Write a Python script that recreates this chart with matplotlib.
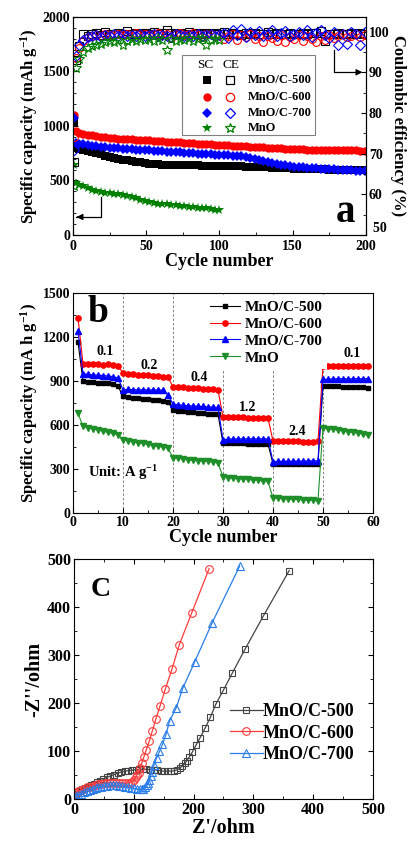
import matplotlib
matplotlib.use("Agg")
import matplotlib.pyplot as plt
from matplotlib.ticker import AutoMinorLocator, MultipleLocator, FixedLocator, FixedFormatter
from matplotlib.patches import Rectangle
from matplotlib.transforms import blended_transform_factory

plt.rcParams["font.family"] = ["Liberation Serif", "DejaVu Serif"]
plt.rcParams["font.weight"] = "bold"
plt.rcParams["axes.labelweight"] = "bold"
plt.rcParams["mathtext.fontset"] = "custom"
plt.rcParams["mathtext.rm"] = "Liberation Serif:bold"
plt.rcParams["mathtext.it"] = "Liberation Serif:bold"
plt.rcParams["mathtext.bf"] = "Liberation Serif:bold"
plt.rcParams["xtick.direction"] = "in"
plt.rcParams["ytick.direction"] = "in"

# ---------------- panel a: cycling at constant rate ----------------
cycles_a = [1, 2] + list(range(4, 201, 3))
cycles_mno = cycles_a[:35]

sc_500 = [1025, 795, 785, 776, 768, 760, 752, 740, 725, 713, 705, 698, 692, 687, 680, 673, 665,
          658, 654, 650, 647, 645, 643, 642, 641, 640, 640, 639, 638, 638, 637, 636, 636, 635,
          635, 634, 633, 632, 631, 630, 628, 627, 625, 623, 621, 619, 617, 615, 613, 611, 610,
          608, 607, 606, 605, 604, 603, 602, 601, 600, 599, 598, 597, 596, 595, 594, 593, 592]
sc_600 = [1100, 950, 940, 930, 921, 914, 908, 903, 898, 893, 889, 885, 882, 879, 876, 873, 871,
          869, 867, 864, 862, 859, 857, 854, 852, 849, 847, 844, 842, 839, 837, 834, 832, 829,
          827, 825, 822, 820, 818, 815, 813, 811, 808, 806, 804, 801, 799, 796, 794, 791, 789,
          787, 786, 785, 784, 783, 782, 781, 780, 779, 779, 778, 777, 776, 776, 775, 774, 774]
sc_700 = [1070, 845, 838, 831, 825, 819, 814, 809, 805, 801, 798, 795, 792, 789, 786, 783, 780,
          777, 775, 772, 770, 767, 765, 762, 760, 757, 755, 752, 750, 747, 745, 742, 740, 737,
          735, 733, 731, 729, 726, 721, 713, 704, 695, 686, 677, 668, 660, 652, 645, 638, 632,
          627, 623, 619, 616, 613, 610, 608, 606, 604, 602, 600, 598, 595, 593, 591, 589, 587]
sc_mno = [640, 475, 462, 445, 428, 412, 400, 390, 386, 381, 378, 375, 368, 360, 352, 340, 325,
          310, 300, 290, 286, 283, 280, 277, 275, 270, 265, 261, 256, 252, 248, 244, 238, 232, 230]

ce_500 = [68.0, 93.0, 96.5, 99.5, 99.0, 99.3, 99.6, 99.2, 99.8, 99.5, 99.4, 99.6, 99.3, 100.2,
          99.5, 99.7, 99.4, 99.6, 99.5, 99.8, 99.3, 99.6, 100.4, 99.7, 99.4, 99.6, 99.5, 99.8,
          99.3, 99.6, 99.5, 99.7, 99.4, 99.6, 99.5, 99.8, 99.3, 99.6, 99.5, 99.2, 99.7, 99.4,
          99.6, 99.3, 99.5, 99.8, 99.4, 99.6, 99.5, 99.3, 99.7, 99.5, 99.4, 99.6, 99.5, 99.7,
          99.6, 100.1, 97.6, 99.5, 99.3, 99.6, 99.4, 99.5, 99.7, 99.4, 99.6, 99.5]
ce_600 = [74.0, 93.5, 96.0, 97.8, 98.6, 98.9, 99.2, 99.0, 99.4, 99.1, 99.3, 99.5, 99.2, 99.4,
          99.0, 99.6, 99.3, 99.5, 99.2, 99.4, 99.6, 99.1, 99.5, 98.4, 99.3, 99.6, 99.2, 99.4,
          99.7, 99.1, 98.7, 99.3, 99.5, 99.0, 99.2, 98.3, 98.9, 99.4, 97.9, 99.1, 98.6, 99.3,
          98.1, 98.8, 97.4, 99.0, 98.5, 97.8, 99.2, 97.5, 98.7, 98.2, 99.1, 97.6, 98.8, 98.3,
          97.4, 98.9, 98.0, 99.2, 98.5, 98.8, 99.3, 98.6, 99.0, 99.4, 98.7, 99.1]
ce_700 = [71.0, 94.0, 96.6, 98.0, 98.6, 98.8, 99.1, 98.7, 99.2, 98.9, 99.3, 99.0, 99.4, 98.8,
          99.2, 99.0, 99.3, 98.9, 99.1, 99.4, 98.8, 99.2, 99.0, 98.6, 99.3, 99.1, 98.9, 99.2,
          99.0, 99.4, 98.8, 99.1, 99.3, 98.9, 99.2, 99.6, 98.4, 100.3, 99.1, 100.6, 98.6, 99.8,
          99.2, 100.1, 98.8, 99.5, 100.4, 99.0, 99.7, 100.2, 98.9, 99.4, 100.0, 99.2, 100.5,
          98.7, 99.6, 100.3, 99.1, 98.4, 99.8, 96.8, 99.5, 97.0, 100.0, 99.3, 96.6, 99.9]
ce_mno = [62.0, 91.0, 93.2, 95.0, 96.0, 96.5, 96.8, 97.0, 97.4, 97.8, 97.5, 98.0, 96.6, 97.8,
          98.1, 97.6, 98.2, 97.9, 98.3, 97.7, 98.4, 98.0, 95.6, 98.2, 97.8, 98.3, 97.9, 98.4,
          97.6, 98.1, 98.5, 96.7, 98.0, 98.3, 97.9]

names_a = ["MnO/C-500", "MnO/C-600", "MnO/C-700", "MnO"]
colors_a = ["black", "red", "blue", "green"]
markers_a = ["s", "o", "D", "*"]
ce_ticks = [50, 60, 70, 80, 90, 100]

# ---------------- panel b: rate capability ----------------
cycles_b = list(range(1, 60))
rate_500 = [1165, 900, 895, 890, 888, 886, 884, 878, 865,
            795, 790, 786, 782, 778, 775, 771, 768, 764, 760,
            700, 696, 692, 689, 686, 684, 681, 678, 675, 672,
            478, 476, 475, 474, 474, 473, 473, 472, 472, 471,
            336, 335, 334, 334, 334, 335, 335, 335, 336, 336,
            865, 867, 866, 864, 862, 860, 859, 857, 856, 855]
rate_600 = [1330, 1018, 1015, 1017, 1014, 1012, 1015, 1010, 1003,
            955, 948, 945, 942, 940, 938, 935, 933, 930, 927,
            860, 858, 856, 854, 852, 850, 848, 846, 843, 840,
            657, 655, 653, 652, 651, 650, 650, 649, 648, 647,
            492, 490, 489, 489, 488, 488, 487, 487, 487, 488,
            1000, 1003, 1004, 1003, 1002, 1002, 1001, 1001, 1000, 1000]
rate_700 = [1240, 950, 945, 942, 940, 937, 934, 930, 920,
            840, 842, 841, 840, 840, 839, 839, 838, 838, 805,
            742, 738, 735, 732, 730, 728, 726, 724, 722, 720,
            500, 503, 505, 505, 506, 505, 506, 505, 506, 505,
            350, 352, 352, 353, 353, 354, 354, 355, 356, 355,
            910, 912, 914, 916, 915, 914, 915, 916, 915, 916]
rate_mno = [680, 590, 582, 574, 566, 558, 550, 542, 534,
            500, 494, 487, 480, 474, 467, 460, 454, 448, 442,
            376, 372, 368, 364, 360, 357, 354, 351, 347, 343,
            245, 241, 238, 235, 232, 229, 226, 223, 220, 216,
            102, 100, 98, 96, 94, 92, 90, 88, 86, 84,
            580, 575, 570, 565, 560, 555, 549, 543, 537, 531]
rate_text = ["0.1", "0.2", "0.4", "1.2", "2.4", "0.1"]
rate_text_x = [6.4, 15.2, 25.3, 35, 44.8, 55.8]
rate_text_y = [1100, 1005, 927, 720, 555, 1090]
rate_steps = [10, 20, 30, 40, 50]

# ---------------- panel c: Nyquist plots ----------------
zre_500 = [0, 3, 6, 10, 14, 19, 24, 29, 34, 39, 44, 49, 55, 61, 67, 73, 79, 85, 91, 97, 103,
           109, 115, 121, 127, 133, 139, 145, 151, 157, 163, 168, 173, 177, 181, 185, 189, 193,
           198, 204, 211, 219, 228, 237, 250, 265, 286, 317, 360]
zim_500 = [8, 11, 14, 17, 20, 23, 26, 29, 32, 35, 38, 41, 45, 48, 51, 54, 56, 58, 59, 60, 61,
           62, 62, 62, 61, 61, 60, 59, 58, 58, 58, 59, 61, 64, 69, 74, 80, 88, 98, 112, 128, 147,
           170, 197, 227, 263, 312, 382, 476]
zre_600 = [0, 3, 7, 11, 16, 21, 26, 31, 36, 41, 46, 51, 56, 61, 66, 71, 76, 81, 86, 90, 94, 97,
           100, 103, 105, 108, 110, 113, 117, 121, 126, 131, 137, 144, 153, 164, 176, 197, 226]
zim_600 = [11, 13, 16, 18, 21, 24, 26, 28, 30, 31, 32, 33, 34, 34, 34, 34, 34, 33, 33, 33, 34,
           36, 40, 45, 50, 55, 64, 74, 88, 103, 121, 142, 167, 194, 230, 271, 321, 388, 480]
zre_700 = [0, 3, 7, 11, 16, 21, 26, 31, 36, 41, 46, 51, 56, 61, 66, 71, 76, 81, 86, 91, 96, 101,
           106, 110, 113, 116, 119, 122, 124, 126, 128, 130, 134, 138, 143, 148, 154, 160, 171,
           182, 202, 231, 277]
zim_700 = [5, 7, 9, 11, 14, 17, 19, 21, 23, 25, 26, 27, 28, 29, 29, 29, 28, 27, 26, 24, 23, 22,
           21, 20, 20, 21, 24, 29, 34, 40, 47, 56, 71, 85, 99, 114, 135, 163, 190, 231, 286, 367,
           485]

fig = plt.figure(figsize=(4.14, 8.44), dpi=100)

# ======== a ========
ax = fig.add_axes([0.1763, 0.7216, 0.7077, 0.2583])
ax2 = ax.twinx()
sc_sizes = [5.5, 6, 5.3, 7.5]
ce_sizes = [5.2, 5.6, 5.0, 7.0]
for x, y, c, m, s in zip([cycles_a, cycles_a, cycles_a, cycles_mno],
                         [sc_500, sc_600, sc_700, sc_mno], colors_a, markers_a, sc_sizes):
    ax.plot(x, y, ls="none", marker=m, color=c, ms=s, mew=0)
for x, y, c, m, s in zip([cycles_a, cycles_a, cycles_a, cycles_mno],
                         [ce_500, ce_600, ce_700, ce_mno], colors_a, markers_a, ce_sizes):
    ax2.plot(x, y, ls="none", marker=m, mfc="none", mec=c, ms=s, mew=0.8)

ax.set_xlim(0, 200)
ax.set_ylim(0, 2000)
ax2.set_ylim(50, 103.6)
ax.xaxis.set_major_locator(MultipleLocator(50))
ax.xaxis.set_minor_locator(AutoMinorLocator(2))
ax.yaxis.set_major_locator(MultipleLocator(500))
ax.yaxis.set_minor_locator(AutoMinorLocator(5))
# right axis: the lowest label ("50") is written separately, slightly raised,
# so that it does not run into the "200" of the cycle axis
ax2.yaxis.set_major_locator(FixedLocator(ce_ticks))
ax2.yaxis.set_major_formatter(FixedFormatter([""] + [str(t) for t in ce_ticks[1:]]))
ax2.yaxis.set_minor_locator(AutoMinorLocator(2))
ax.tick_params(axis="x", labelsize=10, pad=3.5)
ax.tick_params(axis="y", labelsize=10, pad=2)
ax2.tick_params(labelsize=10, pad=2)
ax2.text(1.0, ce_ticks[0], "  " + str(ce_ticks[0]), transform=blended_transform_factory(ax2.transAxes, ax2.transData),
         fontsize=10, ha="left", va="bottom", clip_on=False)
ax.set_xlabel("Cycle number", fontsize=13, labelpad=0)
ax.set_ylabel("Specific capacity (mAh g$^{-1}$)", fontsize=12, labelpad=2)
ax2.set_ylabel("Coulombic efficiency (%)", fontsize=12, rotation=270, labelpad=12)

# arrows pointing to the axes
ax.plot([19, 19, 2], [350, 165, 165], color="black", lw=0.9)
ax.annotate("", xy=(0.5, 165), xytext=(6, 165),
            arrowprops=dict(arrowstyle="-|>", color="black", lw=0.9, mutation_scale=9))
ax2.plot([178, 178, 195], [95.6, 90, 90], color="black", lw=0.9)
ax2.annotate("", xy=(199.5, 90), xytext=(193, 90),
             arrowprops=dict(arrowstyle="-|>", color="black", lw=0.9, mutation_scale=9))

# SC / CE legend box
ax2.add_patch(Rectangle((0.372, 0.459), 0.454, 0.367, transform=ax2.transAxes,
                        facecolor="white", edgecolor="#808080", lw=0.8, zorder=5))
ax2.text(0.452, 0.78, "SC", transform=ax2.transAxes, fontsize=9.5, fontweight="normal",
         ha="center", va="center", zorder=6)
ax2.text(0.541, 0.78, "CE", transform=ax2.transAxes, fontsize=9.5, fontweight="normal",
         ha="center", va="center", zorder=6)
row_y = [0.711, 0.634, 0.561, 0.489]
for ry, name, c, m, s in zip(row_y, names_a, colors_a, markers_a, sc_sizes):
    ax2.plot([0.457], [ry], transform=ax2.transAxes, marker=m, color=c, ms=s, mew=0, zorder=6)
    ax2.plot([0.536], [ry], transform=ax2.transAxes, marker=m, mfc="none", mec=c, ms=s,
             mew=0.9, zorder=6)
    ax2.text(0.597, ry, name, transform=ax2.transAxes, fontsize=9, ha="left", va="center",
             zorder=6)

ax.text(186, 120, "a", fontsize=28, ha="center", va="baseline")

# ======== b ========
bx = fig.add_axes([0.1763, 0.3922, 0.7246, 0.2607])
for s in rate_steps:
    bx.axvline(s, color="gray", ls=(0, (2.5, 2)), lw=0.7, zorder=0)
bx.plot(cycles_b, rate_500, "-s", color="black", ms=3.5, lw=0.8, label="MnO/C-500")
bx.plot(cycles_b, rate_600, "-o", color="red", ms=3.8, lw=0.8, label="MnO/C-600")
bx.plot(cycles_b, rate_700, "-^", color="blue", ms=4, lw=0.8, label="MnO/C-700")
bx.plot(cycles_b, rate_mno, "-v", color="#1f8f2a", ms=4, lw=0.8, label="MnO")
for t, x, y in zip(rate_text, rate_text_x, rate_text_y):
    bx.text(x, y, t, fontsize=10, ha="center", va="center")
bx.text(4.9, 1368, "b", fontsize=27, ha="center", va="center")
bx.text(3.0, 275, "Unit: A g$^{-1}$", fontsize=10.5, ha="left", va="center")
bx.set_xlim(0, 60)
bx.set_ylim(0, 1500)
bx.xaxis.set_major_locator(MultipleLocator(10))
bx.xaxis.set_minor_locator(AutoMinorLocator(2))
bx.yaxis.set_major_locator(MultipleLocator(300))
bx.yaxis.set_minor_locator(AutoMinorLocator(2))
bx.tick_params(labelsize=10, pad=2)
bx.set_xlabel("Cycle number", fontsize=13, labelpad=0)
bx.set_ylabel("Specific capacity (mA h g$^{-1}$)", fontsize=12, labelpad=2)
bx.legend(loc="upper left", bbox_to_anchor=(0.43, 1.0), borderaxespad=0.2,
          fontsize=11, handlelength=2.0, handletextpad=0.3, labelspacing=0.2,
          frameon=True, edgecolor="none", framealpha=1, fancybox=False, borderpad=0.3)

# ======== c ========
cx = fig.add_axes([0.1787, 0.0533, 0.7222, 0.2844])
cx.plot(zre_500, zim_500, "-s", color="#444444", mfc="none", ms=5, mew=0.8, lw=0.9,
        label="MnO/C-500")
cx.plot(zre_600, zim_600, "-o", color="#ff3b3b", mfc="none", ms=5.5, mew=0.8, lw=0.9,
        label="MnO/C-600")
cx.plot(zre_700, zim_700, "-^", color="#2b7de9", mfc="none", ms=5.5, mew=0.8, lw=0.9,
        label="MnO/C-700")
cx.set_xlim(0, 500)
cx.set_ylim(0, 500)
for axis in (cx.xaxis, cx.yaxis):
    axis.set_major_locator(MultipleLocator(100))
    axis.set_minor_locator(AutoMinorLocator(2))
cx.tick_params(which="both", top=True, right=True)
cx.tick_params(labelsize=11.5, pad=2)
cx.set_xlabel("Z'/ohm", fontsize=14.5, labelpad=0)
cx.set_ylabel("-Z''/ohm", fontsize=14.5, labelpad=2)
cx.text(44, 437, "C", fontsize=20, ha="center", va="center")
cx.legend(loc="center left", bbox_to_anchor=(0.48, 0.275), frameon=False, fontsize=13,
          handlelength=1.8, handletextpad=0.0, labelspacing=0.25, borderpad=0.2)

fig.savefig("out.png", dpi=100)
plt.close(fig)
